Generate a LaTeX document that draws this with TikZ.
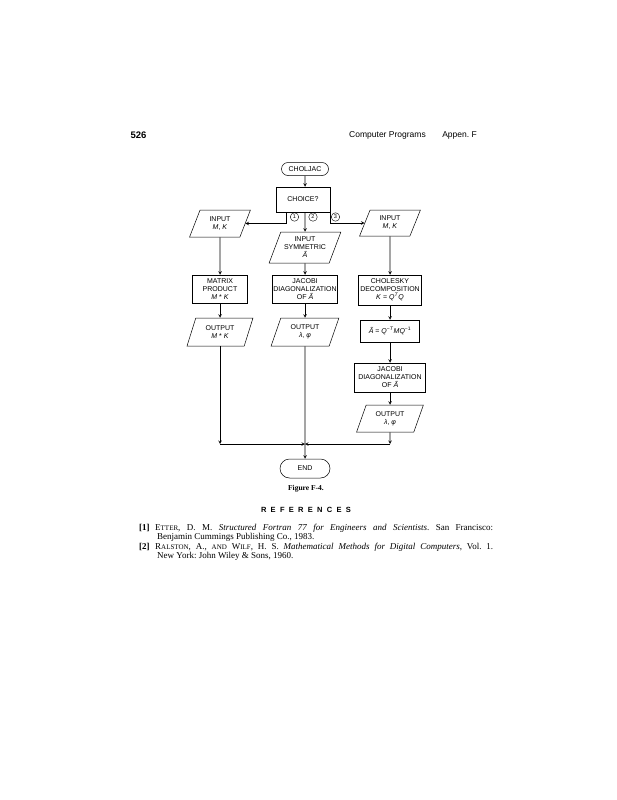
\documentclass[tikz,border=0pt]{standalone}
\usepackage{fontspec}
\setmainfont{Liberation Serif}
\setsansfont{Liberation Sans}
\usetikzlibrary{shapes.misc, shapes.geometric, arrows}
\frenchspacing

% versalitas hechas a mano
\newcommand{\smcap}[2]{#1{\fontsize{7}{8}\selectfont #2}}

\begin{document}
\begin{tikzpicture}[x=1pt, y=-1pt, >=stealth,
    every node/.style={inner sep=0pt, align=center},
    caja/.style={draw, line width=0.5pt, font=\sffamily\fontsize{7}{8}\selectfont},
    terminal/.style={caja, rounded rectangle},
    proceso/.style={caja, rectangle},
    datos/.style={caja, trapezium, trapezium left angle=68, trapezium right angle=112, trapezium stretches=true},
    opcion/.style={draw, circle, line width=0.4pt, minimum size=8.5pt, font=\sffamily\fontsize{5.5}{6}\selectfont},
    flecha/.style={->, line width=0.6pt},
    cita/.style={anchor=west, font=\rmfamily\fontsize{9}{10}\selectfont}]

        \useasboundingbox (0,0) rectangle (617,800);

        % Encabezado de la pagina
        \node[font=\sffamily\bfseries\fontsize{9.5}{10}\selectfont] (pagina) at (138.5,135) {526};
        \node[font=\sffamily\fontsize{8.5}{10}\selectfont] (titulo) at (387.5,135) {Computer Programs};
        \node[font=\sffamily\fontsize{8.5}{10}\selectfont] (apendice) at (459.5,135) {Appen. F};

        % Inicio y eleccion
        \node[terminal, minimum width=47pt, minimum height=13pt] (inicio) at (305,169) {CHOLJAC};
        \node[proceso, minimum width=54pt, minimum height=25pt] (eleccion) at (303,199.5) {CHOICE?};
        \node[opcion] (op1) at (294.5,217) {1};
        \node[opcion] (op2) at (313,217) {2};
        \node[opcion] (op3) at (335.5,217) {3};

        % Entradas
        \node[datos, minimum width=61pt, minimum height=27pt] (entradaA) at (220,223.5) {INPUT\\\textit{M}, \textit{K}};
        \node[datos, minimum width=72pt, minimum height=31pt, trapezium left angle=64, trapezium right angle=116] (entradaB) at (305,247.5) {INPUT\\SYMMETRIC\\\textit{Ã}};
        \node[datos, minimum width=61pt, minimum height=26pt] (entradaC) at (390,223) {INPUT\\\textit{M}, \textit{K}};

        % Procesos
        \node[proceso, minimum width=55pt, minimum height=28pt] (producto) at (220,289) {MATRIX\\PRODUCT\\\textit{M} * \textit{K}};
        \node[proceso, minimum width=65pt, minimum height=28pt] (jacobiA) at (305,289) {JACOBI\\DIAGONALIZATION\\OF \textit{Ã}};
        \node[proceso, minimum width=63pt, minimum height=30pt] (cholesky) at (390,290) {CHOLESKY\\DECOMPOSITION\\\textit{K} = \textit{Q}\textsuperscript{\textit{T}}\textit{Q}};

        % Salidas y transformacion
        \node[datos, minimum width=66pt, minimum height=28pt] (salidaA) at (220,332) {OUTPUT\\\textit{M} * \textit{K}};
        \node[datos, minimum width=68pt, minimum height=28pt] (salidaB) at (305,332) {OUTPUT\\\textit{λ}, \textit{φ}};
        \node[proceso, minimum width=59pt, minimum height=22pt] (transforma) at (390,331) {\textit{Ã} = \textit{Q}\textsuperscript{−\textit{T}}\textit{MQ}\textsuperscript{−1}};
        \node[proceso, minimum width=71pt, minimum height=29pt] (jacobiB) at (390,377.5) {JACOBI\\DIAGONALIZATION\\OF \textit{Ã}};
        \node[datos, minimum width=67pt, minimum height=27pt] (salidaC) at (390,418.5) {OUTPUT\\\textit{λ}, \textit{φ}};

        % Fin
        \node[terminal, minimum width=50pt, minimum height=19pt] (fin) at (305,468.5) {END};
        \coordinate (union) at (305,444);
        \coordinate (rama1) at ([xshift=11pt]eleccion.south west);

        % Flechas de arriba
        \draw[flecha] (inicio) -- (inicio |- eleccion.north);
        \draw[flecha] (rama1) |- (entradaA);
        \draw[flecha] (eleccion.south -| entradaB.north) -- (entradaB);
        \draw[flecha] (eleccion.south east) |- (entradaC);

        % Flechas de las columnas
        \draw[flecha] (entradaA) -- (producto);
        \draw[flecha] (producto) -- (salidaA);
        \draw[flecha] (entradaB) -- (jacobiA);
        \draw[flecha] (jacobiA) -- (salidaB);
        \draw[flecha] (entradaC) -- (cholesky);
        \draw[flecha] (cholesky) -- (transforma);
        \draw[flecha] (transforma) -- (jacobiB);
        \draw[flecha] (jacobiB) -- (salidaC);

        % Union hacia el fin
        \draw[flecha] (salidaA) -- (salidaA |- union);
        \draw[flecha] (salidaA |- union) -- (union);
        \draw[flecha] (salidaC) -- (salidaC |- union);
        \draw[flecha] (salidaC |- union) -- (union);
        \draw[flecha] (salidaB) -- (fin);

        % Pie de figura
        \node[font=\rmfamily\bfseries\fontsize{7.5}{9}\selectfont] (pie) at (306,489) {Figure F-4.};

        % Referencias
        \node[font=\sffamily\bfseries\fontsize{7.5}{9}\selectfont] (referencias) at (306,510) {\makebox[90pt][s]{R E F E R E N C E S}};
        \node[cita, font=\rmfamily\bfseries\fontsize{9}{10}\selectfont] (num1) at (139,528) {[1]};
        \node[cita] (cita1a) at (155,528) {\makebox[338pt][s]{\smcap{E}{TTER}, D. M. \textit{Structured Fortran 77 for Engineers and Scientists}. San Francisco:}};
        \node[cita] (cita1b) at (157,537.5) {Benjamin Cummings Publishing Co., 1983.};
        \node[cita, font=\rmfamily\bfseries\fontsize{9}{10}\selectfont] (num2) at (139,547) {[2]};
        \node[cita] (cita2a) at (155,547) {\makebox[338pt][s]{\smcap{R}{ALSTON}, A., \smcap{}{AND} \smcap{W}{ILF}, H. S. \textit{Mathematical Methods for Digital Computers}, Vol. 1.}};
        \node[cita] (cita2b) at (157,556.5) {New York: John Wiley \& Sons, 1960.};
    \end{tikzpicture}
\end{document}
